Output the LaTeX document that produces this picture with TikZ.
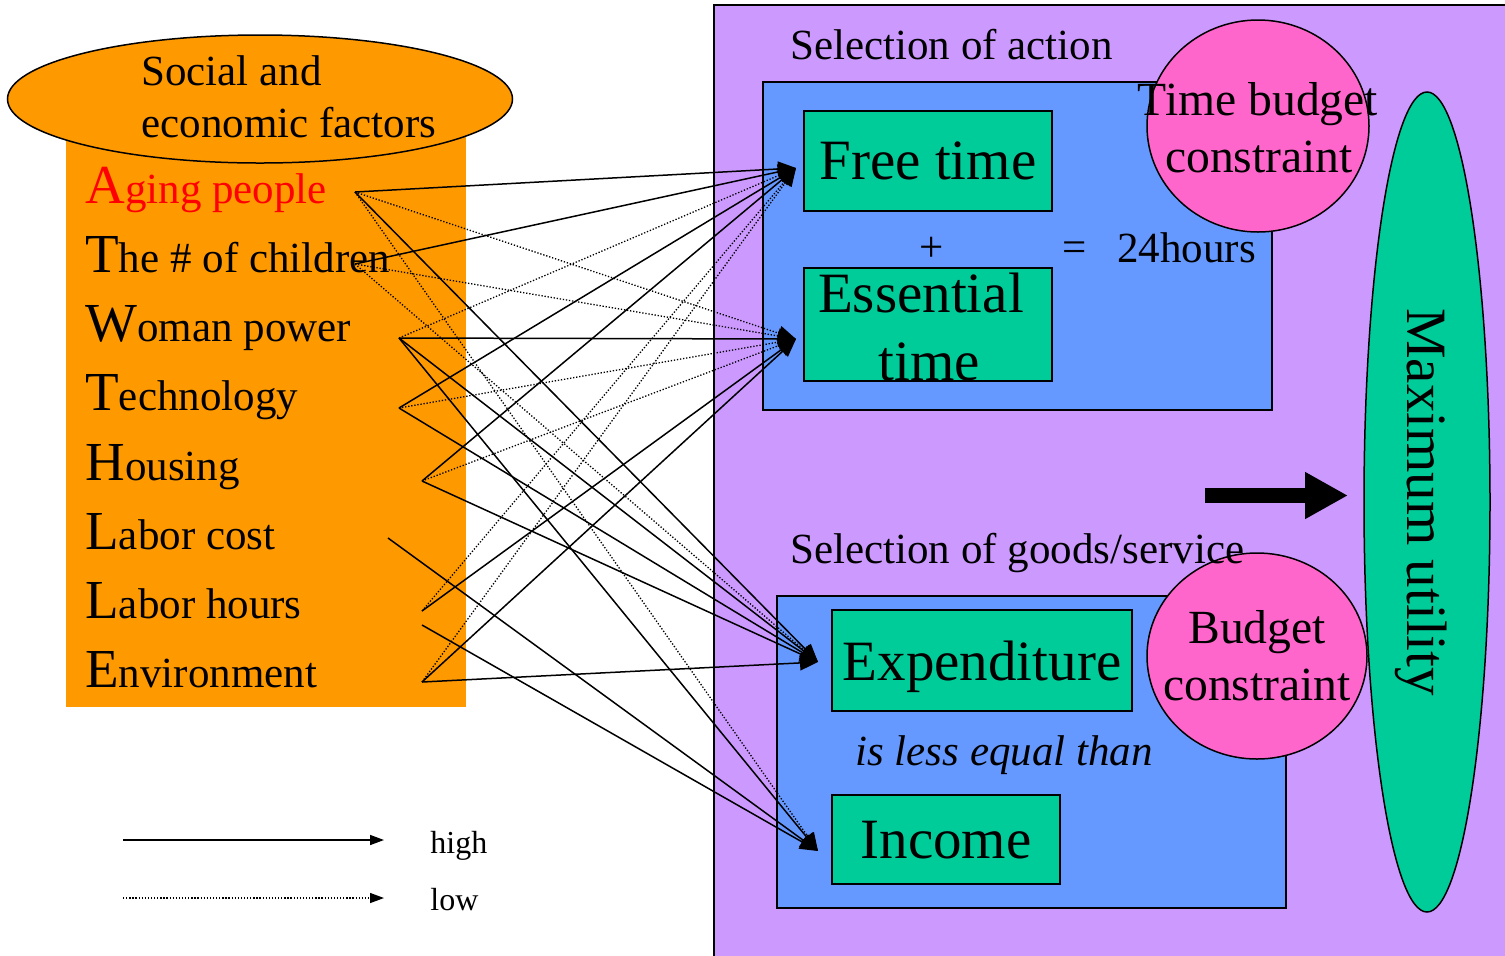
\documentclass[tikz,border=0pt]{standalone}
\usepackage{fontspec}
\setmainfont{Liberation Serif}
\usetikzlibrary{shapes.geometric, arrows.meta}
\definecolor{orangeF}{HTML}{FF9900}
\definecolor{purpleF}{HTML}{CC99FF}
\definecolor{blueF}{HTML}{6699FF}
\definecolor{greenF}{HTML}{00CC99}
\definecolor{pinkF}{HTML}{FF66CC}
\newcommand\fItem{\fontsize{21.5}{24}\selectfont}
\newcommand\fIni{\fontsize{27.5}{30}\selectfont}
\newcommand\fBox{\fontsize{28.5}{32}\selectfont}
\newcommand\fHdr{\fontsize{21.5}{24}\selectfont}
\newcommand\fCirc{\fontsize{23.8}{26}\selectfont}
\newcommand\fLeg{\fontsize{16}{18}\selectfont}
\newcommand\ini[1]{{\fIni #1}}
\begin{document}
\begin{tikzpicture}[x=0.5pt,y=-0.5pt,
  shapeline/.style={draw=black, line width=0.75pt},
  greenbox/.style={shapeline, fill=greenF, inner sep=1pt, text depth=0pt, font=\fBox},
  item/.style={anchor=base west, inner sep=0pt, font=\fItem},
  lbl/.style={anchor=base west, inner sep=0pt},
  ctr/.style={anchor=base, inner sep=0pt},
  hi/.style={line width=0.75pt, -{Triangle[length=9pt,width=7.5pt]}},
  lo/.style={hi, line width=0.65pt, dash pattern=on 0.65pt off 0.9pt},
]
\useasboundingbox (0,0) rectangle (1505,955);
% right-hand panels
\draw[shapeline, fill=purpleF] (714,5) rectangle (1530,980);
\draw[shapeline, fill=blueF] (763,82) rectangle (1272,410);
\draw[shapeline, fill=blueF] (777,596) rectangle (1286,908);
% left panel
\fill[orangeF] (66,135) rectangle (466,707);
\node[ellipse, shapeline, fill=orangeF, minimum width=252.5pt, minimum height=64pt, inner sep=0pt] (sef) at (260,99) {};
\node[lbl, font=\fHdr] (sef1) at (141,85) {Social and};
\node[lbl, font=\fHdr] (sef2) at (141,137) {economic factors};
% items
\node[item, text=red] (iA) at (85,203) {\ini{A}ging people};
\node[item] (iC) at (85,272) {\ini{T}he \# of children};
\node[item] (iW) at (85,341.5) {\ini{W}oman power};
\node[item] (iT) at (85,410.5) {\ini{T}echnology};
\node[item] (iH) at (85,480) {\ini{H}ousing};
\node[item] (iLC) at (85,549) {\ini{L}abor cost};
\node[item] (iLH) at (85,618) {\ini{L}abor hours};
\node[item] (iE) at (85,687) {\ini{E}nvironment};
% boxes
\node[greenbox, minimum width=124pt, minimum height=50pt] (ft) at (928,161) {Free time};
\node[shapeline, fill=greenF, minimum width=124pt, minimum height=56.5pt] (et) at (928,324.5) {};
\node[ctr, font=\fBox] (et1) at (921,312) {Essential};
\node[ctr, font=\fBox] (et2) at (929,380) {time};
\node[greenbox, minimum width=150pt, minimum height=50.5pt] (ex) at (982,660.5) {Expenditure};
\node[greenbox, minimum width=114pt, minimum height=44.5pt] (in) at (946,839.5) {Income};
% circles
\node[ellipse, shapeline, fill=pinkF, minimum width=111pt, minimum height=106pt, inner sep=0pt] (tbc) at (1258,126) {};
\node[ctr, font=\fCirc] (tbc1) at (1258,115) {Time budget};
\node[ctr, font=\fCirc] (tbc2) at (1259,172) {constraint};
\node[ellipse, shapeline, fill=pinkF, minimum width=110pt, minimum height=103pt, inner sep=0pt] (bc) at (1257,656) {};
\node[ctr, font=\fCirc] (bc1) at (1257,643) {Budget};
\node[ctr, font=\fCirc] (bc2) at (1257,700) {constraint};
\node[ellipse, shapeline, fill=greenF, minimum width=63pt, minimum height=410pt, inner sep=0pt] (mu) at (1427,502) {};
\node[rotate=-90, font=\fBox, inner sep=0pt] (mut) at (1421,502) {Maximum utility};
% headers and other texts
\node[lbl, font=\fHdr] (sa) at (790,59) {Selection of action};
\node[lbl, font=\fHdr] (sg) at (790,563) {Selection of goods/service};
\node[ctr, font=\fHdr] (plus) at (932,261) {+};
\node[ctr, font=\fHdr] (eq) at (1075,261) {=};
\node[lbl, font=\fHdr] (h24) at (1117,262) {24hours};
\node[lbl, font=\fHdr\itshape] (leq) at (855,765) {is less equal than};
% thick arrow
\coordinate (ta1) at (1205,495.5);
\coordinate (ta2) at (1348,495.5);
\draw[line width=7.5pt, -{Triangle[length=21.5pt,width=22pt]}] (ta1) -- (ta2);
% connector endpoints
\coordinate (sA) at (355,192);
\coordinate (sC) at (355,264);
\coordinate (sW) at (399,338);
\coordinate (sT) at (399,408);
\coordinate (sH) at (422,481);
\coordinate (sLC) at (388,538);
\coordinate (sLH) at (422,611);
\coordinate (sLH2) at (422,625);
\coordinate (sE) at (422,682);
\coordinate (tFT) at (796,168);
\coordinate (tET) at (796,339);
\coordinate (tEX) at (818,662);
\coordinate (tIN) at (818,851);
% connectors
\draw[hi] (sA) -- (tFT);
\draw[lo] (sA) -- (tET);
\draw[hi] (sA) -- (tEX);
\draw[lo] (sA) -- (tIN);
\draw[hi] (sC) -- (tFT);
\draw[lo] (sC) -- (tET);
\draw[lo] (sC) -- (tEX);
\draw[lo] (sW) -- (tFT);
\draw[hi] (sW) -- (tET);
\draw[hi] (sW) -- (tEX);
\draw[hi] (sW) -- (tIN);
\draw[hi] (sT) -- (tFT);
\draw[lo] (sT) -- (tET);
\draw[hi] (sT) -- (tEX);
\draw[hi] (sH) -- (tFT);
\draw[lo] (sH) -- (tET);
\draw[hi] (sH) -- (tEX);
\draw[hi] (sLC) -- (tIN);
\draw[lo] (sLH) -- (tFT);
\draw[hi] (sLH) -- (tET);
\draw[hi] (sLH2) -- (tIN);
\draw[lo] (sE) -- (tFT);
\draw[hi] (sE) -- (tET);
\draw[hi] (sE) -- (tEX);
% legend
\coordinate (lh1) at (123,840);
\coordinate (lh2) at (384,840);
\coordinate (ll1) at (123,898);
\coordinate (ll2) at (384,898);
\draw[hi, -{Triangle[length=7pt,width=5pt]}] (lh1) -- (lh2);
\draw[lo, -{Triangle[length=7pt,width=5pt]}] (ll1) -- (ll2);
\node[lbl, font=\fLeg] (lgh) at (430,853) {high};
\node[lbl, font=\fLeg] (lgl) at (430,910) {low};
\end{tikzpicture}
\end{document}
